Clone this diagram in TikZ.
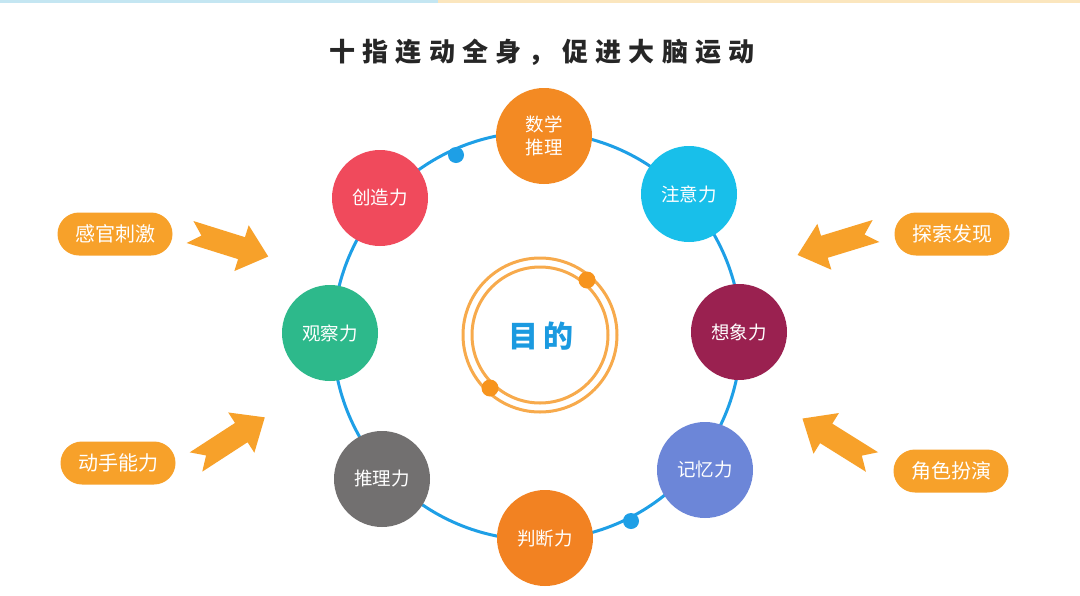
\documentclass[tikz,border=0pt]{standalone}
\usepackage{fontspec}
\setmainfont{Noto Sans CJK SC}
\definecolor{ringblue}{HTML}{1E9FE6}
\definecolor{orA}{HTML}{F38A23}
\definecolor{orB}{HTML}{F28222}
\definecolor{cyanN}{HTML}{18BFEA}
\definecolor{maroonN}{HTML}{9A2150}
\definecolor{periN}{HTML}{6C86D8}
\definecolor{grayN}{HTML}{727070}
\definecolor{greenN}{HTML}{2DB98B}
\definecolor{redN}{HTML}{F04A5C}
\definecolor{pillc}{HTML}{F7A12A}
\definecolor{innerc}{HTML}{F7AA4C}
\definecolor{dotc}{HTML}{F7941D}
\definecolor{titlec}{HTML}{262626}
\definecolor{aimc}{HTML}{1B9AE0}
\definecolor{topblue}{HTML}{C4E6F2}
\definecolor{toporange}{HTML}{FBE6BE}
\tikzset{
  skill/.style={circle, minimum size=96pt, inner sep=0pt, text=white, font=\fontsize{18.5}{23}\selectfont, align=center},
  pill/.style={rounded corners=21.5pt, minimum width=115pt, minimum height=43pt, inner sep=0pt, fill=pillc, text=white, font=\fontsize{20}{24}\selectfont},
  fatarrow/.pic={\fill[pillc] (0,-11.5) -- (54,-11.5) -- (54,-24) -- (82,0) -- (54,24) -- (54,11.5) -- (0,11.5) -- (12,0) -- cycle;}
}
\begin{document}
\begin{tikzpicture}[x=1pt,y=-1pt]
\useasboundingbox (0,0) rectangle (1080,595);
\fill[white] (0,0) rectangle (1080,595);
\fill[topblue] (0,0) rectangle (438,2.5);
\fill[toporange] (438,0) rectangle (1080,2.5);
% title
\node[font=\fontsize{26}{30}\selectfont\bfseries\addfontfeatures{LetterSpace=28}, text=titlec] (title) at (542,52) {十指连动全身，促进大脑运动};
% ring
\coordinate (c) at (537,336);
\draw[ringblue, line width=3pt] (c) circle[radius=204];
\fill[ringblue] (456,155) circle[radius=8];
\fill[ringblue] (631,521) circle[radius=8];
% center
\coordinate (m) at (540,335);
\draw[innerc, line width=3pt] (m) circle[radius=77];
\draw[innerc, line width=3pt] (m) circle[radius=68];
\fill[dotc] (587,280) circle[radius=8.5];
\fill[dotc] (490,388) circle[radius=8.5];
\node[font=\fontsize{30}{34}\selectfont\bfseries, text=aimc] (aim) at (541,336) {目\hspace{5pt}的};
% skill nodes
\node[skill, fill=orA] (math) at (544,136) {数学\\推理};
\node[skill, fill=cyanN] (attn) at (689,194) {注意力};
\node[skill, fill=maroonN] (imag) at (739,332) {想象力};
\node[skill, fill=periN] (mem) at (705,470) {记忆力};
\node[skill, fill=orB] (judge) at (545,538) {判断力};
\node[skill, fill=grayN] (reason) at (382,479) {推理力};
\node[skill, fill=greenN] (obs) at (330,333) {观察力};
\node[skill, fill=redN] (create) at (380,198) {创造力};
% pills
\node[pill] (sense) at (115,234) {感官刺激};
\node[pill] (hands) at (118,463) {动手能力};
\node[pill] (explore) at (952,234) {探索发现};
\node[pill] (role) at (951,471) {角色扮演};
% arrows
\pic[rotate=-17.4] at (190,232) {fatarrow};
\pic[rotate=33] at (196,462) {fatarrow};
\pic[rotate=197] at (876,231) {fatarrow};
\pic[rotate=148] at (872,462) {fatarrow};
\end{tikzpicture}
\end{document}
